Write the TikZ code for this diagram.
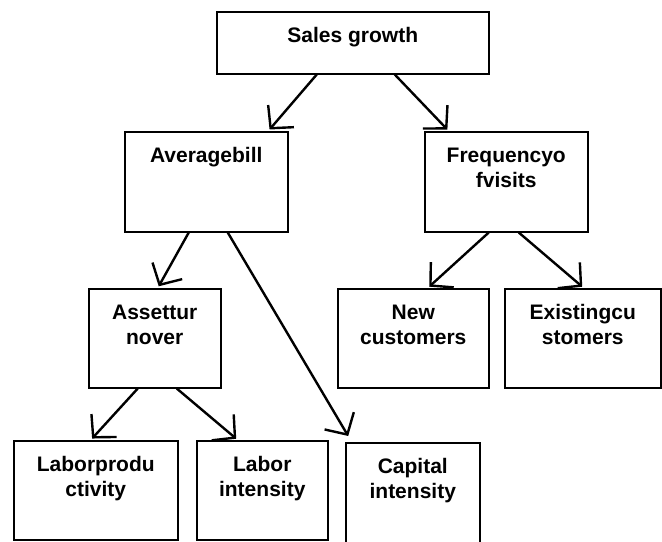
\documentclass[tikz,border=0pt]{standalone}
\usepackage{fontspec}
\setmainfont{Liberation Sans}
\usetikzlibrary{arrows.meta}
\newcommand{\boxtext}[3]{\parbox[t][#2][t]{#1}{\centering\rule{0pt}{15.5pt}#3}}

\begin{document}
\begin{tikzpicture}[x=0.5pt,y=-0.5pt,box/.style={draw,line width=0.75pt,inner sep=0pt,anchor=north west,font=\fontsize{10.5}{12.5}\selectfont\bfseries},arr/.style={line width=1.2pt,shorten >=1pt,-{Straight Barb[length=8pt,width=17pt,line width=1.2pt]}}]
\clip (0,0) rectangle (662,541);
\node[box] (sales) at (216,11) {\boxtext{136pt}{31pt}{Sales growth}};
\node[box] (avg) at (124,131) {\boxtext{81.5pt}{50pt}{Averagebill}};
\node[box] (freq) at (424,131) {\boxtext{81.5pt}{50pt}{Frequencyo\\fvisits}};
\node[box] (asset) at (88,288) {\boxtext{66pt}{49.5pt}{Assettur\\nover}};
\node[box] (newc) at (337,288) {\boxtext{75.5pt}{49.5pt}{New\\customers}};
\node[box] (exist) at (504,288) {\boxtext{78pt}{49.5pt}{Existingcu\\stomers}};
\node[box] (laborp) at (13,440) {\boxtext{82pt}{49.5pt}{Laborprodu\\ctivity}};
\node[box] (labori) at (196,440) {\boxtext{65.5pt}{49.5pt}{Labor\\intensity}};
\node[box] (capital) at (345,442) {\boxtext{67pt}{60pt}{Capital\\intensity}};
% level 1
\draw[arr] ([xshift=-18pt]sales.south) -- ([xshift=31pt]avg.north);
\draw[arr] ([xshift=21pt]sales.south) -- ([xshift=-28.75pt]freq.north);
% level 2
\draw[arr] ([xshift=-8.75pt]avg.south) -- ([xshift=1.5pt]asset.north);
\draw[arr,shorten >=3.5pt] ([xshift=10.75pt]avg.south) -- ([xshift=-30.5pt]capital.north);
\draw[arr] ([xshift=-8.75pt]freq.south) -- ([xshift=7.25pt]newc.north);
\draw[arr] ([xshift=6.25pt]freq.south) -- ([xshift=0.5pt]exist.north);
% level 3
\draw[arr] ([xshift=-8.5pt]asset.south) -- ([xshift=-2.5pt]laborp.north);
\draw[arr] ([xshift=11pt]asset.south) -- ([xshift=-12.25pt]labori.north);
\end{tikzpicture}
\end{document}
